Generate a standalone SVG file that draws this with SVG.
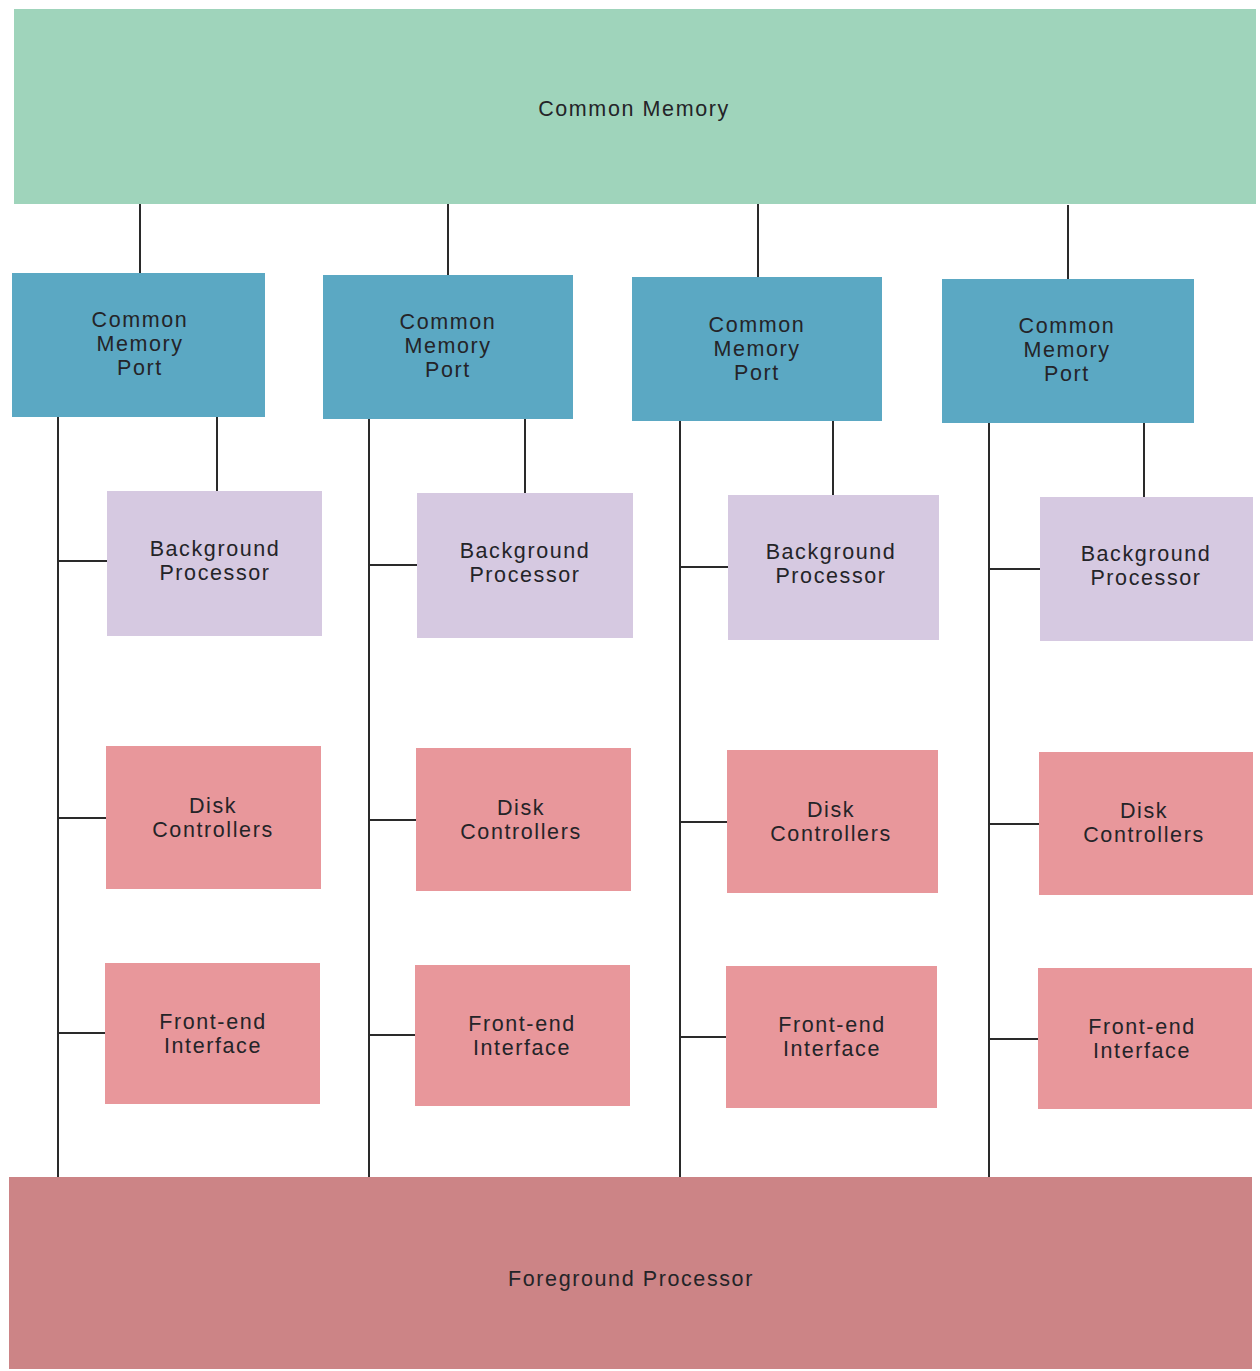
<svg xmlns="http://www.w3.org/2000/svg" width="1260" height="1371" viewBox="0 0 1260 1371">
<style>
text{font-family:"Liberation Sans",Arial,sans-serif;font-size:21.5px;letter-spacing:1.6px;text-anchor:middle;fill:#242428}
.mem{fill:#9fd4bb}
.cmp{fill:#5ba8c3}
.bp{fill:#d6c9e1}
.dc{fill:#e8979b}
.fp{fill:#cc8486}
.ln{stroke:#2a2a2a;stroke-width:2;fill:none}
</style>
<rect width="1260" height="1371" fill="#ffffff"/>
<g id="connectors" class="ln">
<path d="M140 203V273M448 203V275M758 204V277M1068 205V279"/>
<path d="M58 417V1178M217 417V491M58 561H107M58 818H106M58 1033H105"/>
<path d="M369 419V1179M525 419V493M369 565H417M369 820H416M369 1035H415"/>
<path d="M680 421V1180M833 421V495M680 567H728M680 822H727M680 1037H726"/>
<path d="M989 423V1181M1144 423V497M989 569H1040M989 824H1039M989 1039H1038"/>
</g>
<g id="common-memory"><rect class="mem" x="14" y="9" width="1242" height="195"/><text x="634" y="116">Common Memory</text></g>
<g id="cmp1"><rect class="cmp" x="12" y="273" width="253" height="144"/><text x="140" y="327">Common</text><text x="140" y="351">Memory</text><text x="140" y="375">Port</text></g>
<g id="cmp2"><rect class="cmp" x="323" y="275" width="250" height="144"/><text x="448" y="329">Common</text><text x="448" y="353">Memory</text><text x="448" y="377">Port</text></g>
<g id="cmp3"><rect class="cmp" x="632" y="277" width="250" height="144"/><text x="757" y="332">Common</text><text x="757" y="356">Memory</text><text x="757" y="380">Port</text></g>
<g id="cmp4"><rect class="cmp" x="942" y="279" width="252" height="144"/><text x="1067" y="333">Common</text><text x="1067" y="357">Memory</text><text x="1067" y="381">Port</text></g>
<g id="bp1"><rect class="bp" x="107" y="491" width="215" height="145"/><text x="215" y="556">Background</text><text x="215" y="580">Processor</text></g>
<g id="bp2"><rect class="bp" x="417" y="493" width="216" height="145"/><text x="525" y="558">Background</text><text x="525" y="582">Processor</text></g>
<g id="bp3"><rect class="bp" x="728" y="495" width="211" height="145"/><text x="831" y="559">Background</text><text x="831" y="583">Processor</text></g>
<g id="bp4"><rect class="bp" x="1040" y="497" width="213" height="144"/><text x="1146" y="561">Background</text><text x="1146" y="585">Processor</text></g>
<g id="dc1"><rect class="dc" x="106" y="746" width="215" height="143"/><text x="213" y="813">Disk</text><text x="213" y="837">Controllers</text></g>
<g id="dc2"><rect class="dc" x="416" y="748" width="215" height="143"/><text x="521" y="815">Disk</text><text x="521" y="839">Controllers</text></g>
<g id="dc3"><rect class="dc" x="727" y="750" width="211" height="143"/><text x="831" y="817">Disk</text><text x="831" y="841">Controllers</text></g>
<g id="dc4"><rect class="dc" x="1039" y="752" width="214" height="143"/><text x="1144" y="818">Disk</text><text x="1144" y="842">Controllers</text></g>
<g id="fe1"><rect class="dc" x="105" y="963" width="215" height="141"/><text x="213" y="1029">Front-end</text><text x="213" y="1053">Interface</text></g>
<g id="fe2"><rect class="dc" x="415" y="965" width="215" height="141"/><text x="522" y="1031">Front-end</text><text x="522" y="1055">Interface</text></g>
<g id="fe3"><rect class="dc" x="726" y="966" width="211" height="142"/><text x="832" y="1032">Front-end</text><text x="832" y="1056">Interface</text></g>
<g id="fe4"><rect class="dc" x="1038" y="968" width="214" height="141"/><text x="1142" y="1034">Front-end</text><text x="1142" y="1058">Interface</text></g>
<g id="foreground"><rect class="fp" x="9" y="1177" width="1243" height="192"/><text x="631" y="1286">Foreground Processor</text></g>
</svg>
